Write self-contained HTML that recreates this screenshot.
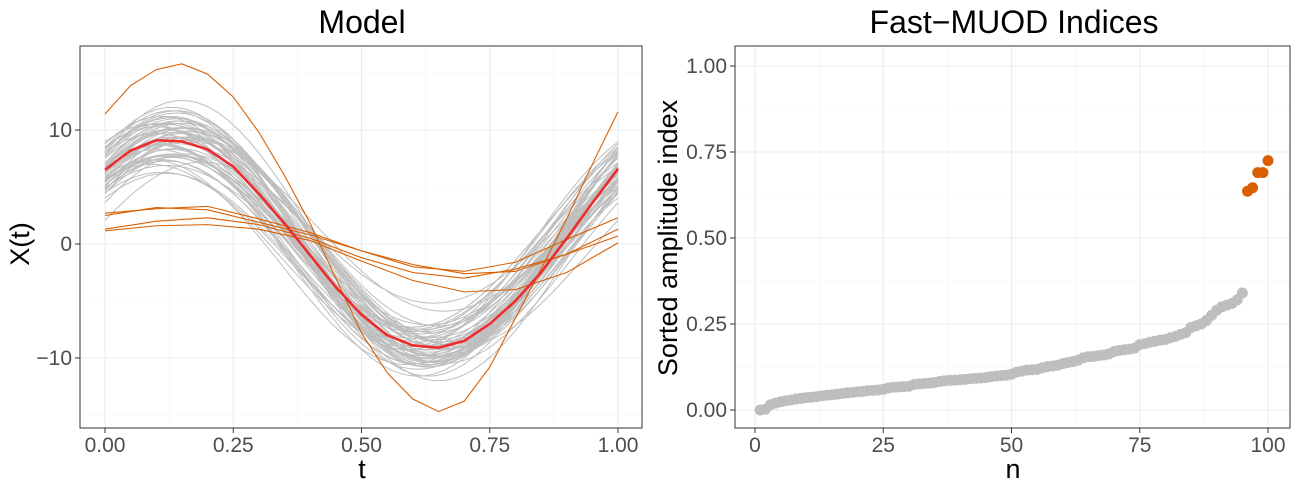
<!DOCTYPE html>
<html><head><meta charset="utf-8"><style>
body{margin:0;background:#fff;}
svg{display:block;font-family:"Liberation Sans",sans-serif;}
</style></head><body>
<svg id="c" width="1297" height="483"></svg>
<script>
// ---- Left panel data ----
const tMean = [0,0.05,0.1,0.15,0.2,0.25,0.3,0.35,0.4,0.45,0.5,0.55,0.6,0.65,0.7,0.75,0.8,0.85,0.9,0.95,1.0];
const meanCurve = [6.5,8.2,9.1,9.0,8.3,6.8,4.4,1.8,-1.0,-3.8,-6.2,-8.0,-8.9,-9.1,-8.5,-7.0,-5.0,-2.5,0.5,3.6,6.6];
const tGrid = [0,0.1,0.2,0.3,0.4,0.5,0.6,0.7,0.8,0.9,1.0];
const bigOutlierT = [0,0.05,0.1,0.15,0.2,0.25,0.3,0.35,0.4,0.45,0.5,0.55,0.6,0.65,0.7,0.75,0.8,0.85,0.9,0.95,1.0];
const bigOutlier = [11.4,13.9,15.3,15.8,14.9,12.9,9.8,6.0,1.8,-3.0,-7.8,-11.3,-13.6,-14.7,-13.8,-10.8,-6.5,-2.2,2.2,7.0,11.6];
const flat1 = [2.7,3.1,3.3,2.2,1.0,-0.6,-2.0,-2.4,-1.6,0.4,2.3];
const flat2 = [2.5,3.2,3.0,1.9,0.8,-0.6,-1.8,-2.6,-2.4,-0.9,1.3];
const flat3 = [1.3,2.0,2.3,1.7,0.5,-1.2,-2.5,-3.0,-2.2,-0.9,0.7];
const flat4 = [1.15,1.6,1.7,1.3,0.3,-1.5,-3.2,-4.2,-4.0,-2.5,0.1];
const grayAmps = [9,9.8,8.2,10.6,9.2,8.5,10.1,10.8,7.8,9.1,9.9,8.9,11.2,9.6,8.3,9.3,10.4,7.6,9.0,11.0,9.2,8.0,10.2,9.5,7.9,10.7,9.1,8.6,9.6,9.4,7.2,11.4,9.0,9.7,8.4,10.0,10.5,8.8,9.2,9.5,7.0,8.1,10.9,9.6,9.0,8.2,10.3,9.3,7.7,10.1,8.7,9.9,10.6,8.0,9.4,11.1,8.5,9.8,7.5,10.2];
const grayPhases = [0.12,0.10,0.14,0.12,0.09,0.15,0.12,0.11,0.14,0.08,0.16,0.12,0.10,0.14,0.11,0.15,0.12,0.09,0.13,0.12,0.08,0.16,0.11,0.12,0.15,0.10,0.13,0.12,0.09,0.11,0.13,0.12,0.16,0.10,0.12,0.11,0.14,0.12,0.13,0.09,0.11,0.06,0.12,0.14,0.11,0.15,0.12,0.10,0.13,0.12,0.10,0.14,0.11,0.13,0.09,0.12,0.15,0.10,0.12,0.14];
const grayOffsets = [0,0.8,-0.8,0.5,-1.3,1.2,-0.3,0.9,-1.5,0.3,0.6,-0.6,1.4,-0.9,0.1,1.0,-0.4,1.7,-1.7,0.7,0,-1.0,1.3,-0.2,0.4,-1.3,0.9,-0.7,0.3,1.6,-0.3,0.6,-1.6,1.1,-0.6,0.2,0.7,-1.2,1.3,-0.4,1.8,-0.9,0.3,1.0,-1.3,0.5,-0.3,0.9,0,-0.7,1.5,-1.1,0.2,-1.8,0.8,-0.5,1.2,-0.1,0.4,-1.4];
// ---- Right panel data ----
const grayIdx = [0,0.002,0.015,0.02,0.024,0.027,0.029,0.032,0.034,0.036,0.037,0.039,0.041,0.043,0.044,0.046,0.048,0.05,0.051,0.053,0.054,0.056,0.057,0.058,0.06,0.064,0.066,0.067,0.068,0.069,0.074,0.076,0.077,0.078,0.08,0.083,0.085,0.086,0.087,0.088,0.089,0.091,0.092,0.093,0.094,0.097,0.099,0.1,0.101,0.104,0.11,0.113,0.116,0.117,0.118,0.123,0.126,0.128,0.13,0.135,0.138,0.141,0.145,0.152,0.155,0.156,0.158,0.16,0.163,0.17,0.173,0.175,0.177,0.18,0.19,0.193,0.197,0.2,0.203,0.205,0.21,0.214,0.22,0.225,0.24,0.245,0.25,0.26,0.275,0.29,0.3,0.305,0.31,0.32,0.34];
const outIdx = [0.636,0.646,0.69,0.69,0.725];
const xTicksL = ["0.00","0.25","0.50","0.75","1.00"];
const yTicksL = [10,0,-10];
const xTicksR = [0,25,50,75,100];
const yTicksR = ["0.00","0.25","0.50","0.75","1.00"];

const svg = document.getElementById('c');
const NS='http://www.w3.org/2000/svg';
function mk(tag, attrs, parent){const e=document.createElementNS(NS,tag);for(const k in attrs)e.setAttribute(k,attrs[k]);(parent||svg).appendChild(e);return e;}

const L={x0:80,x1:642,y0:46,y1:428};
const lx=t=>105+t*513, ly=v=>244-v*11.4;
const R={x0:735,x1:1290,y0:46,y1:428};
const rx=n=>755+n*5.13, ry=v=>410-v*344;

function panel(P,xs,ys,xmin,ymin,name){
  const g=mk('g',{});
  
  
  xmin.forEach(x=>mk('line',{x1:x,x2:x,y1:P.y0,y2:P.y1,stroke:'#f2f2f2','stroke-width':0.6},g));
  ymin.forEach(y=>mk('line',{x1:P.x0,x2:P.x1,y1:y,y2:y,stroke:'#f2f2f2','stroke-width':0.6},g));
  xs.forEach(x=>mk('line',{x1:x,x2:x,y1:P.y0,y2:P.y1,stroke:'#ebebeb','stroke-width':1.1},g));
  ys.forEach(y=>mk('line',{x1:P.x0,x2:P.x1,y1:y,y2:y,stroke:'#ebebeb','stroke-width':1.1},g));
}
panel(L,[0,0.25,0.5,0.75,1].map(lx),[-10,0,10].map(ly),[0.125,0.375,0.625,0.875].map(lx),[-15,-5,5,15].map(ly),'left');
panel(R,xTicksR.map(rx),[0,0.25,0.5,0.75,1].map(ry),[12.5,37.5,62.5,87.5].map(rx),[0.125,0.375,0.625,0.875].map(ry),'right');

const cp=mk('clipPath',{id:'clipL'});mk('rect',{x:L.x0,y:L.y0,width:L.x1-L.x0,height:L.y1-L.y0},cp);
const lg=mk('g',{'clip-path':'url(#clipL)'});
for(let i=0;i<grayAmps.length;i++){
  let pts=[];for(let k=0;k<=50;k++){const t=k/50;pts.push(lx(t)+','+ly(grayAmps[i]*Math.sin(2*Math.PI*(t+grayPhases[i]))+grayOffsets[i]));}
  const p=mk('polyline',{points:pts.join(' '),fill:'none',stroke:'#bebebe','stroke-width':1},lg);
  
  
}
[flat1,flat2,flat3,flat4].forEach(arr=>{
  const p=mk('polyline',{points:arr.map((v,k)=>lx(tGrid[k])+','+ly(v)).join(' '),fill:'none',stroke:'#d95f02','stroke-width':1.1},lg);
  
  
});
{const p=mk('polyline',{points:bigOutlier.map((v,k)=>lx(bigOutlierT[k])+','+ly(v)).join(' '),fill:'none',stroke:'#d95f02','stroke-width':1.1},lg);

}
{const p=mk('polyline',{points:meanCurve.map((v,k)=>lx(tMean[k])+','+ly(v)).join(' '),fill:'none',stroke:'#ee2c2c','stroke-width':2.6},lg);

}

grayIdx.forEach((v,i)=>{const c=mk('circle',{cx:rx(i+1),cy:ry(v),r:5.5,fill:'#bebebe'});

});
outIdx.forEach((v,i)=>{const c=mk('circle',{cx:rx(grayIdx.length+i+1),cy:ry(v),r:5.5,fill:'#d95f02'});

});

[L,R].forEach((P,i)=>{const r=mk('rect',{x:P.x0,y:P.y0,width:P.x1-P.x0,height:P.y1-P.y0,fill:'none',stroke:'#333','stroke-width':1});

});

function txt(x,y,s,attrs,name){const e=mk('text',Object.assign({x:x,y:y},attrs));e.textContent=s;

return e;}
const tk={fill:'#4d4d4d','font-size':21};
xTicksL.forEach(s=>{const x=lx(parseFloat(s));mk('line',{x1:x,x2:x,y1:L.y1,y2:L.y1+5,stroke:'#333'});txt(x,452,s,Object.assign({'text-anchor':'middle'},tk),'x-tick-label');});
yTicksL.forEach(v=>{const y=ly(v);mk('line',{x1:L.x0-5,x2:L.x0,y1:y,y2:y,stroke:'#333'});txt(L.x0-8,y+7,v<0?'\u2212'+(-v):String(v),Object.assign({'text-anchor':'end'},tk),'y-tick-label');});
xTicksR.forEach(v=>{const x=rx(v);mk('line',{x1:x,x2:x,y1:R.y1,y2:R.y1+5,stroke:'#333'});txt(x,452,String(v),Object.assign({'text-anchor':'middle'},tk),'x-tick-label');});
yTicksR.forEach(s=>{const y=ry(parseFloat(s));mk('line',{x1:R.x0-5,x2:R.x0,y1:y,y2:y,stroke:'#333'});txt(R.x0-8,y+7,s,Object.assign({'text-anchor':'end'},tk),'y-tick-label');});

txt(362,33,'Model',{'text-anchor':'middle','font-size':32,fill:'#000'},'left-title');
txt(1014,33,'Fast\u2212MUOD Indices',{'text-anchor':'middle','font-size':32,fill:'#000'},'right-title');
txt(362,478,'t',{'text-anchor':'middle','font-size':27,fill:'#000'},'x-axis-title');
txt(1013,478,'n',{'text-anchor':'middle','font-size':27,fill:'#000'},'x-axis-title-right');
txt(0,0,'X(t)',{'text-anchor':'middle','font-size':27,fill:'#000',transform:'translate(29,244) rotate(-90)'},'y-axis-title');
txt(0,0,'Sorted amplitude index',{'text-anchor':'middle','font-size':27,fill:'#000',transform:'translate(677,238) rotate(-90)'},'y-axis-title-right');
</script>
</body></html>
